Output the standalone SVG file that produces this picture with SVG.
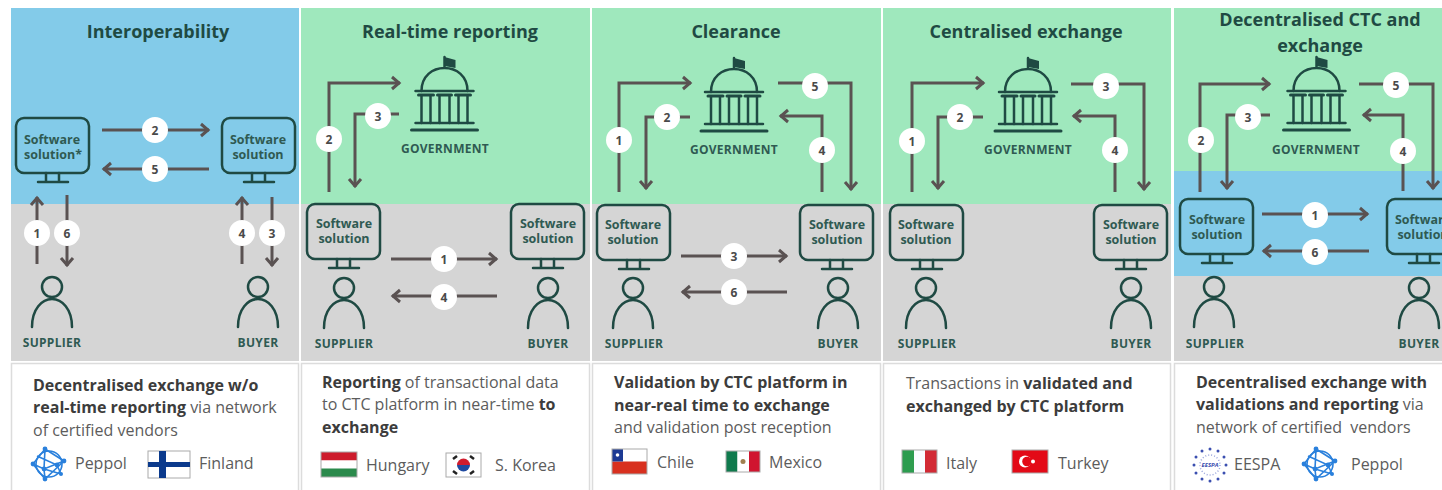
<svg xmlns="http://www.w3.org/2000/svg" xmlns:xlink="http://www.w3.org/1999/xlink" width="1442" height="490" viewBox="0 0 1442 490">
<style>
text{font-family:"Open Sans","Noto Sans","Liberation Sans",sans-serif}
.title{font-size:18px;font-weight:700;fill:#1f4a43;text-anchor:middle}
.sw{font-size:12.500px;font-weight:700;fill:#2f5a52;text-anchor:middle}
.who{font-size:12px;font-weight:700;fill:#2f5a52;text-anchor:middle;letter-spacing:.3px}
.body{font-size:16px;fill:#5c5c5c}
.body .b{font-weight:700;fill:#3c3c3c}
.tag{font-size:16px;fill:#5c5c5c}
.ink{fill:none;stroke:#1f4a43;stroke-width:2.500;stroke-linecap:round;stroke-linejoin:round}
.conn path{fill:none;stroke:#5a5252;stroke-width:3;marker-end:url(#ah)}
.badge circle{fill:#fff}
.badge text{font-size:12px;font-weight:700;fill:#4a4a4a;text-anchor:middle}
.blue{fill:#83cbe9}.green{fill:#9fe8bd}.grey{fill:#d5d5d5}
.card{fill:#fff;stroke:#dcdcdc;stroke-width:1.500}
.flag{stroke:#aaa;stroke-width:1}
</style>
<defs>
<marker id="ah" markerUnits="userSpaceOnUse" markerWidth="14" markerHeight="16" viewBox="0 0 14 16" refX="11" refY="8" orient="auto"><path d="M3 2 L10 8 L3 14" fill="none" stroke="#5a5252" stroke-width="3"/></marker>
<g id="monitor" class="ink"><rect x="0" y="0" width="73" height="55" rx="8"/><path d="M30 55V63M43 55V63M22 64H52"/></g>
<g id="person" class="ink"><circle cx="0" cy="0" r="10"/><path d="M-20 40C-20 22 -10 12 0 12C10 12 20 22 20 40"/></g>
<g id="gov"><g class="ink"><path d="M-33 0H33" stroke-width="3"/><path d="M-29 -7H29M-29 -39H29"/><path d="M-23 -39C-23 -54 -12 -62 0 -62C12 -62 23 -54 23 -39M0 -62V-73"/><path d="M-26 -35H-11M-7 -35H7M11 -35H26" stroke-width="3"/><path d="M-23 -34V-7M-14 -34V-7M-5 -34V-7M5 -34V-7M14 -34V-7M23 -34V-7"/></g><path d="M0 -73L11 -70V-62L0 -64Z" fill="#1f4a43"/></g>
<g id="peppol" fill="none" stroke="#2a80dc" stroke-width="1.600"><circle r="13"/><path d="M-4 -15L-16 0L-4 15L15 -3L-4 -15M-4 -15L-5 5L-4 15M-16 0L-5 5L15 -3M-12 -8L8 1L12 10M-5 5L12 10"/><g fill="#2a80dc" stroke="none"><circle cx="-4" cy="-15" r="2.400"/><circle cx="-16" cy="0" r="2.400"/><circle cx="-4" cy="15" r="2.400"/><circle cx="15" cy="-3" r="2.400"/><circle cx="-5" cy="5" r="2.400"/><circle cx="8" cy="1" r="2.400"/><circle cx="12" cy="10" r="2"/></g></g>
</defs>

<g id="panels">
<rect class="blue" x="11" y="8" width="288" height="196"/><rect class="grey" x="11" y="204" width="288" height="157"/>
<rect class="green" x="301" y="8" width="289" height="196"/><rect class="grey" x="301" y="204" width="289" height="157"/>
<rect class="green" x="592" y="8" width="289" height="196"/><rect class="grey" x="592" y="204" width="289" height="157"/>
<rect class="green" x="883" y="8" width="288" height="196"/><rect class="grey" x="883" y="204" width="288" height="157"/>
<rect class="green" x="1174" y="8" width="268" height="163"/><rect class="blue" x="1174" y="171" width="268" height="105"/><rect class="grey" x="1174" y="276" width="268" height="85"/>
<rect class="card" x="11.500" y="363.500" width="287" height="130"/>
<rect class="card" x="301.500" y="363.500" width="288" height="130"/>
<rect class="card" x="592.500" y="363.500" width="288" height="130"/>
<rect class="card" x="883.500" y="363.500" width="287" height="130"/>
<rect class="card" x="1174.500" y="363.500" width="270" height="130"/>
<text class="title" x="158" y="38">Interoperability</text>
<text class="title" x="450" y="38">Real-time reporting</text>
<text class="title" x="736" y="38">Clearance</text>
<text class="title" x="1026" y="38">Centralised exchange</text>
<text class="title" x="1320" y="26">Decentralised CTC and</text>
<text class="title" x="1320" y="52">exchange</text>
</g>

<g id="connectors">
<g class="conn">
<path d="M102 130H209"/><path d="M209 169H103"/><path d="M37 264V197"/><path d="M67 195V266"/><path d="M242 264V197"/><path d="M272 197V266"/>
<path d="M329 192V83H400"/><path d="M399 114H355V187"/><path d="M391 259H497"/><path d="M497 296H392"/>
<path d="M619 192V83H691"/><path d="M690 117H646V189"/><path d="M778 83H851V190"/><path d="M822 192V116H780"/><path d="M681 256H787"/><path d="M787 292H682"/>
<path d="M912 192V83H984"/><path d="M983 117H938V189"/><path d="M1071 84H1144V190"/><path d="M1115 192V116H1073"/>
<path d="M1200 192V84H1270"/><path d="M1270 115H1227V189"/><path d="M1359 84H1433V189"/><path d="M1403 191V115H1363"/><path d="M1262 214H1368"/><path d="M1369 251H1263"/>
</g>
<g class="badge">
<circle cx="155" cy="130" r="13"/><text x="155" y="135">2</text>
<circle cx="155" cy="169" r="13"/><text x="155" y="174">5</text>
<circle cx="37" cy="233" r="13"/><text x="37" y="238">1</text>
<circle cx="67" cy="233" r="13"/><text x="67" y="238">6</text>
<circle cx="242" cy="233" r="13"/><text x="242" y="238">4</text>
<circle cx="272" cy="233" r="13"/><text x="272" y="238">3</text>
<circle cx="329" cy="139" r="13"/><text x="329" y="144">2</text>
<circle cx="378" cy="116" r="13"/><text x="378" y="121">3</text>
<circle cx="444" cy="259" r="13"/><text x="444" y="264">1</text>
<circle cx="444" cy="297" r="13"/><text x="444" y="302">4</text>
<circle cx="619" cy="140" r="13"/><text x="619" y="145">1</text>
<circle cx="667" cy="117" r="13"/><text x="667" y="122">2</text>
<circle cx="815" cy="86" r="13"/><text x="815" y="91">5</text>
<circle cx="822" cy="150" r="13"/><text x="822" y="155">4</text>
<circle cx="734" cy="256" r="13"/><text x="734" y="261">3</text>
<circle cx="734" cy="292" r="13"/><text x="734" y="297">6</text>
<circle cx="912" cy="141" r="13"/><text x="912" y="146">1</text>
<circle cx="960" cy="117" r="13"/><text x="960" y="122">2</text>
<circle cx="1106" cy="86" r="13"/><text x="1106" y="91">3</text>
<circle cx="1115" cy="150" r="13"/><text x="1115" y="155">4</text>
<circle cx="1201" cy="140" r="13"/><text x="1201" y="145">2</text>
<circle cx="1248" cy="117" r="13"/><text x="1248" y="122">3</text>
<circle cx="1396" cy="85" r="13"/><text x="1396" y="90">5</text>
<circle cx="1403" cy="151" r="13"/><text x="1403" y="156">4</text>
<circle cx="1315" cy="215" r="13"/><text x="1315" y="220">1</text>
<circle cx="1315" cy="252" r="13"/><text x="1315" y="257">6</text>
</g>
</g>

<g id="p1-software-a"><use href="#monitor" x="16" y="118"/><text class="sw" x="52" y="144">Software</text><text class="sw" x="53" y="159">solution*</text></g>
<g id="p1-software-b"><use href="#monitor" x="222" y="118"/><text class="sw" x="258" y="144">Software</text><text class="sw" x="258" y="159">solution</text></g>
<g id="p1-supplier"><use href="#person" x="52" y="287"/><text class="who" x="52" y="347">SUPPLIER</text></g>
<g id="p1-buyer"><use href="#person" x="258" y="287"/><text class="who" x="258" y="347">BUYER</text></g>

<g id="p2-government"><use href="#gov" x="444.500" y="130"/><text class="who" x="445" y="153">GOVERNMENT</text></g>
<g id="p2-software-a"><use href="#monitor" x="307" y="204"/><text class="sw" x="344" y="228">Software</text><text class="sw" x="344" y="243">solution</text></g>
<g id="p2-software-b"><use href="#monitor" x="511" y="204"/><text class="sw" x="548" y="228">Software</text><text class="sw" x="548" y="243">solution</text></g>
<g id="p2-supplier"><use href="#person" x="344" y="288"/><text class="who" x="344" y="348">SUPPLIER</text></g>
<g id="p2-buyer"><use href="#person" x="548" y="288"/><text class="who" x="548" y="348">BUYER</text></g>

<g id="p3-government"><use href="#gov" x="734" y="131"/><text class="who" x="734" y="154">GOVERNMENT</text></g>
<g id="p3-software-a"><use href="#monitor" x="597" y="205"/><text class="sw" x="633" y="229">Software</text><text class="sw" x="633" y="244">solution</text></g>
<g id="p3-software-b"><use href="#monitor" x="800" y="205"/><text class="sw" x="837" y="229">Software</text><text class="sw" x="837" y="244">solution</text></g>
<g id="p3-supplier"><use href="#person" x="633" y="288"/><text class="who" x="634" y="348">SUPPLIER</text></g>
<g id="p3-buyer"><use href="#person" x="838" y="288"/><text class="who" x="838" y="348">BUYER</text></g>

<g id="p4-government"><use href="#gov" x="1028" y="131"/><text class="who" x="1028" y="154">GOVERNMENT</text></g>
<g id="p4-software-a"><use href="#monitor" x="890" y="205"/><text class="sw" x="926" y="229">Software</text><text class="sw" x="926" y="244">solution</text></g>
<g id="p4-software-b"><use href="#monitor" x="1094" y="205"/><text class="sw" x="1131" y="229">Software</text><text class="sw" x="1131" y="244">solution</text></g>
<g id="p4-supplier"><use href="#person" x="926" y="288"/><text class="who" x="927" y="348">SUPPLIER</text></g>
<g id="p4-buyer"><use href="#person" x="1131" y="288"/><text class="who" x="1131" y="348">BUYER</text></g>

<g id="p5-government"><use href="#gov" x="1316.500" y="130"/><text class="who" x="1316" y="154">GOVERNMENT</text></g>
<g id="p5-software-a"><use href="#monitor" x="1180" y="199"/><text class="sw" x="1217" y="224">Software</text><text class="sw" x="1217" y="239">solution</text></g>
<g id="p5-software-b"><use href="#monitor" x="1387" y="199"/><text class="sw" x="1423" y="224">Software</text><text class="sw" x="1423" y="239">solution</text></g>
<g id="p5-supplier"><use href="#person" x="1214" y="287"/><text class="who" x="1215" y="348">SUPPLIER</text></g>
<g id="p5-buyer"><use href="#person" x="1419" y="288"/><text class="who" x="1419" y="348">BUYER</text></g>

<g id="card-text">
<text class="body" x="33" y="391"><tspan class="b">Decentralised exchange w/o</tspan></text>
<text class="body" x="33" y="413"><tspan class="b">real-time reporting</tspan> via network</text>
<text class="body" x="33" y="436">of certified vendors</text>
<text class="body" x="322" y="388"><tspan class="b">Reporting</tspan> of transactional data</text>
<text class="body" x="322" y="410">to CTC platform in near-time <tspan class="b">to</tspan></text>
<text class="body" x="322" y="433"><tspan class="b">exchange</tspan></text>
<text class="body" x="614" y="388"><tspan class="b">Validation by CTC platform in</tspan></text>
<text class="body" x="614" y="411"><tspan class="b">near-real time to exchange</tspan></text>
<text class="body" x="614" y="433">and validation post reception</text>
<text class="body" x="906" y="389">Transactions in <tspan class="b">validated and</tspan></text>
<text class="body" x="906" y="412"><tspan class="b">exchanged by CTC platform</tspan></text>
<text class="body" x="1196" y="388"><tspan class="b">Decentralised exchange with</tspan></text>
<text class="body" x="1196" y="410"><tspan class="b">validations and reporting</tspan> via</text>
<text class="body" x="1196" y="433" xml:space="preserve">network of certified  vendors</text>
<text class="tag" x="75" y="469">Peppol</text><text class="tag" x="199" y="469">Finland</text>
<text class="tag" x="366" y="471">Hungary</text><text class="tag" x="495" y="471">S. Korea</text>
<text class="tag" x="657" y="468">Chile</text><text class="tag" x="769" y="468">Mexico</text>
<text class="tag" x="946" y="469">Italy</text><text class="tag" x="1058" y="469">Turkey</text>
<text class="tag" x="1234" y="470">EESPA</text><text class="tag" x="1351" y="470">Peppol</text>
</g>

<g id="logos">
<use href="#peppol" x="49" y="464"/>
<use href="#peppol" x="1320" y="464"/>
<g id="flag-finland"><rect class="flag" x="148" y="451" width="42" height="27" fill="#fff"/><path d="M148 462H190V467H148ZM159 451H166V478H159Z" fill="#0b3a8c"/></g>
<g id="flag-hungary"><rect x="321" y="452" width="36" height="8.500" fill="#cd1b2c"/><rect x="321" y="460.500" width="36" height="8" fill="#fff"/><rect x="321" y="468.500" width="36" height="8.500" fill="#2b8a4c"/><rect class="flag" x="321" y="452" width="36" height="25" fill="none"/></g>
<g id="flag-korea"><rect class="flag" x="446" y="453" width="35" height="24" fill="#fff"/><path d="M457 465A6.500 6.500 0 0 1 470 465Z" fill="#d01c2e"/><path d="M457 465A6.500 6.500 0 0 0 470 465Z" fill="#1f4aa0"/><path d="M453 459L457 456M470 456L474 459M453 471L457 474M470 474L474 471" stroke="#222" stroke-width="2.500"/></g>
<g id="flag-chile"><rect x="612" y="449" width="35" height="12.500" fill="#fff"/><rect x="612" y="461.500" width="35" height="12.500" fill="#d8301f"/><rect x="612" y="449" width="11" height="12.500" fill="#1c3a94"/><circle cx="617.500" cy="455" r="1.800" fill="#fff"/><rect class="flag" x="612" y="449" width="35" height="25" fill="none"/></g>
<g id="flag-mexico"><rect x="726" y="451" width="11.500" height="21" fill="#0f7a4d"/><rect x="737.500" y="451" width="11.500" height="21" fill="#fff"/><rect x="749" y="451" width="11" height="21" fill="#d0152f"/><circle cx="743" cy="461.500" r="2.500" fill="#a08050"/><rect class="flag" x="726" y="451" width="34" height="21" fill="none"/></g>
<g id="flag-italy"><rect x="902" y="450" width="12" height="23" fill="#2c9c4f"/><rect x="914" y="450" width="11" height="23" fill="#fafcff"/><rect x="925" y="450" width="12" height="23" fill="#d22a35"/><rect class="flag" x="902" y="450" width="35" height="23" fill="none"/></g>
<g id="flag-turkey"><rect class="flag" x="1012" y="450" width="36" height="23" fill="#e30a17"/><circle cx="1025" cy="461.500" r="6" fill="#fff"/><circle cx="1027" cy="461.500" r="4.800" fill="#e30a17"/><circle cx="1033" cy="461.500" r="2" fill="#fff"/></g>
<g id="eespa"><g fill="#3b4fb0"><circle cx="1210" cy="449" r="1.500"/><circle cx="1218" cy="451" r="1.500"/><circle cx="1224" cy="457" r="1.500"/><circle cx="1226" cy="465" r="1.500"/><circle cx="1224" cy="473" r="1.500"/><circle cx="1218" cy="479" r="1.500"/><circle cx="1210" cy="481" r="1.500"/><circle cx="1202" cy="479" r="1.500"/><circle cx="1196" cy="473" r="1.500"/><circle cx="1194" cy="465" r="1.500"/><circle cx="1196" cy="457" r="1.500"/><circle cx="1202" cy="451" r="1.500"/></g><circle cx="1210" cy="465" r="10" fill="none" stroke="#9aa5dc" stroke-width="1.500" stroke-dasharray="1 2"/><text x="1210" y="467" font-size="6" font-weight="700" font-style="italic" fill="#3b4fb0" text-anchor="middle">EESPA</text></g>
</g>
</svg>
